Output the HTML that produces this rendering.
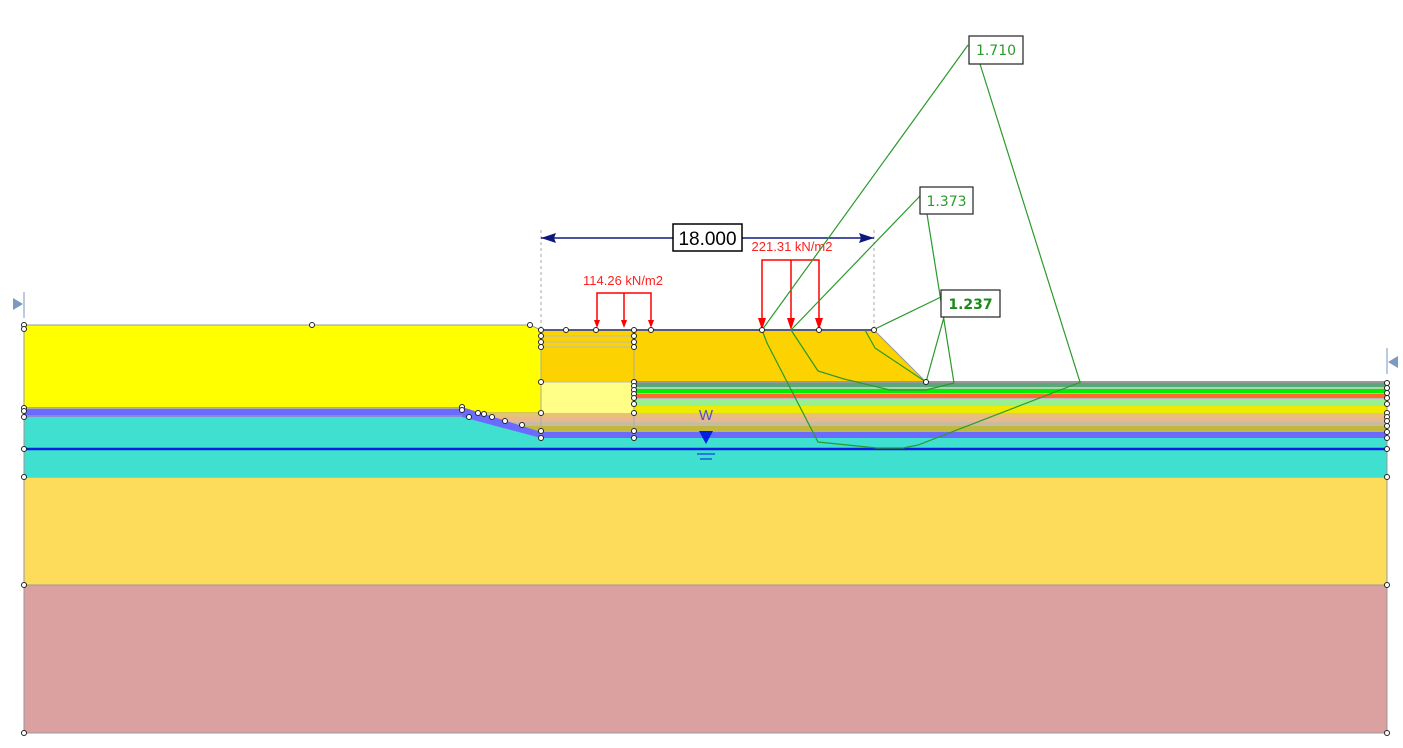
<!DOCTYPE html>
<html><head><meta charset="utf-8"><style>html,body{margin:0;padding:0;background:#fff}svg{display:block}</style></head><body>
<svg width="1403" height="748" viewBox="0 0 1403 748" xmlns="http://www.w3.org/2000/svg" font-family="Liberation Sans, sans-serif">
<rect x="24" y="585" width="1363" height="148" fill="#dba0a0" stroke="#999" stroke-width="1"/>
<rect x="24" y="477" width="1363" height="108" fill="#fddc5c" stroke="#999" stroke-width="1"/>
<rect x="24" y="413" width="1363" height="64" fill="#40e0d0"/>
<polygon points="24,325 530,325 541,330 541,413 462,413 462,408 24,408" fill="#ffff00" stroke="#999" stroke-width="1"/>
<rect x="541" y="330" width="93" height="52" fill="#fcd200"/>
<rect x="541" y="382" width="93" height="31" fill="#ffff88"/>
<line x1="541" y1="336" x2="634" y2="336" stroke="#bbb"/><line x1="541" y1="342" x2="634" y2="342" stroke="#bbb"/><line x1="541" y1="347" x2="634" y2="347" stroke="#bbb"/>
<line x1="541" y1="382" x2="634" y2="382" stroke="#bbb"/>
<polygon points="634,330 874,330 926,382 634,382" fill="#fcd200"/>
<rect x="634" y="381" width="753" height="2" fill="#999"/>
<rect x="634" y="383" width="753" height="4" fill="#5aa87a"/>
<rect x="634" y="387" width="753" height="2" fill="#a8d8a8"/>
<rect x="634" y="389" width="753" height="4" fill="#00ee00"/>
<rect x="634" y="393" width="753" height="1" fill="#bbb"/>
<rect x="634" y="394" width="753" height="4" fill="#ff6a2a"/>
<rect x="634" y="398" width="753" height="1" fill="#bbb"/>
<rect x="634" y="399" width="753" height="6" fill="#98f090"/>
<rect x="634" y="405" width="753" height="1" fill="#ccc"/>
<rect x="634" y="406" width="753" height="7" fill="#eeea00"/>
<rect x="462" y="413" width="925" height="4" fill="#e8c078"/>
<rect x="462" y="417" width="925" height="5" fill="#e8b890"/>
<rect x="462" y="422" width="925" height="4" fill="#c8bca0"/>
<rect x="462" y="426" width="925" height="6" fill="#c0b840"/>
<rect x="541" y="432" width="846" height="6" fill="#6b6bff"/>
<polygon points="462,417 541,438 541,449 462,449" fill="#40e0d0"/>
<polygon points="24,407 462,407 541,432 541,438 462,417 24,417" fill="#6b6bff"/>
<line x1="24" y1="408" x2="462" y2="408" stroke="#aaa" stroke-width="2"/>
<line x1="24" y1="416" x2="462" y2="416" stroke="#aaa" stroke-width="1"/>
<line x1="541" y1="330" x2="541" y2="437" stroke="#aaa"/><line x1="634" y1="330" x2="634" y2="437" stroke="#aaa"/>
<line x1="24" y1="449" x2="1387" y2="449" stroke="#0020e0" stroke-width="2.5"/>
<line x1="24" y1="325" x2="24" y2="733" stroke="#999"/><line x1="1387" y1="382" x2="1387" y2="733" stroke="#999"/>
<line x1="541" y1="330" x2="874" y2="330" stroke="#555a80" stroke-width="2"/>
<line x1="874" y1="330" x2="926" y2="382" stroke="#999"/>
<line x1="24" y1="292" x2="24" y2="318" stroke="#7a9ac0"/><polygon points="13,298 23,304 13,310" fill="#7a9ac0"/>
<line x1="1387" y1="348" x2="1387" y2="374" stroke="#7a9ac0"/><polygon points="1398,356 1388,362 1398,368" fill="#7a9ac0"/>
<text x="706" y="420" font-size="15" fill="#5050d0" text-anchor="middle">W</text>
<polygon points="699,431 713,431 706,444" fill="#0020e0"/>
<line x1="697" y1="454" x2="715" y2="454" stroke="#0020e0"/><line x1="700" y1="459" x2="712" y2="459" stroke="#0020e0"/>
<line x1="541" y1="230" x2="541" y2="330" stroke="#aaa" stroke-dasharray="3,3"/>
<line x1="874" y1="230" x2="874" y2="330" stroke="#aaa" stroke-dasharray="3,3"/>
<line x1="541" y1="238" x2="874" y2="238" stroke="#101880" stroke-width="1.5"/>
<polygon points="541,238 556,233 554,238 556,243" fill="#101880"/><polygon points="874,238 859,233 861,238 859,243" fill="#101880"/>
<rect x="673" y="224" width="69" height="27" fill="#fff" stroke="#000" stroke-width="1.5"/>
<text x="707.5" y="245" font-size="19" text-anchor="middle" fill="#000">18.000</text>
<g stroke="#ff0000" stroke-width="1.5" fill="none">
<polyline points="597,322 597,293 651,293 651,322"/><line x1="624" y1="293" x2="624" y2="322"/>
<polyline points="762,322 762,260 819,260 819,322"/><line x1="791" y1="260" x2="791" y2="322"/>
</g>
<g fill="#ff0000">
<polygon points="594,320 600,320 597,328"/><polygon points="621,320 627,320 624,328"/><polygon points="648,320 654,320 651,328"/>
<polygon points="758,318 766,318 762,330"/><polygon points="787,318 795,318 791,330"/><polygon points="815,318 823,318 819,330"/>
</g>
<text x="623" y="285" font-size="13" fill="#ff2020" text-anchor="middle">114.26 kN/m2</text>
<text x="792" y="251" font-size="13" fill="#ff2020" text-anchor="middle">221.31 kN/m2</text>
<g stroke="#2a9a2a" stroke-width="1.2" fill="none">
<polyline points="762,330 767,343 818,442 877,448 903,448 918,445 1081,382"/>
<polyline points="791,330 818,371 844,379 890,390 926,390 954,383"/>
<polyline points="865,330 875,348 926,382"/>
<line x1="968" y1="45" x2="762" y2="330"/><line x1="980" y1="64" x2="1080" y2="382"/>
<line x1="920" y1="196" x2="791" y2="330"/><line x1="927" y1="214" x2="954" y2="383"/>
<line x1="941" y1="297" x2="875" y2="329"/><line x1="944" y1="317" x2="926" y2="382"/>
</g>
<g fill="#fff" stroke="#222" stroke-width="1.2">
<rect x="969" y="36" width="54" height="28"/><rect x="920" y="187" width="53" height="27"/><rect x="941" y="290" width="59" height="27"/>
</g>
<text x="996" y="55" font-size="14" fill="#2a9a2a" text-anchor="middle" font-family="DejaVu Sans, sans-serif">1.710</text>
<text x="946.5" y="206" font-size="14" fill="#2a9a2a" text-anchor="middle" font-family="DejaVu Sans, sans-serif">1.373</text>
<text x="970.5" y="309" font-size="14" font-weight="bold" fill="#1a8a1a" text-anchor="middle" font-family="DejaVu Sans, sans-serif">1.237</text>
<g fill="#fff" stroke="#222" stroke-width="1">
<circle cx="24" cy="325" r="2.5"/><circle cx="24" cy="329" r="2.5"/><circle cx="312" cy="325" r="2.5"/><circle cx="530" cy="325" r="2.5"/>
<circle cx="24" cy="408" r="2.5"/><circle cx="24" cy="411" r="2.5"/><circle cx="24" cy="417" r="2.5"/><circle cx="24" cy="449" r="2.5"/><circle cx="24" cy="477" r="2.5"/><circle cx="24" cy="585" r="2.5"/><circle cx="24" cy="733" r="2.5"/>
<circle cx="1387" cy="449" r="2.5"/><circle cx="1387" cy="477" r="2.5"/><circle cx="1387" cy="585" r="2.5"/><circle cx="1387" cy="733" r="2.5"/>
<circle cx="1387" cy="383" r="2.5"/><circle cx="1387" cy="388" r="2.5"/><circle cx="1387" cy="393" r="2.5"/><circle cx="1387" cy="398" r="2.5"/><circle cx="1387" cy="404" r="2.5"/><circle cx="1387" cy="413" r="2.5"/><circle cx="1387" cy="417" r="2.5"/><circle cx="1387" cy="421" r="2.5"/><circle cx="1387" cy="426" r="2.5"/><circle cx="1387" cy="432" r="2.5"/><circle cx="1387" cy="438" r="2.5"/>
<circle cx="462" cy="407" r="2.5"/><circle cx="462" cy="410" r="2.5"/><circle cx="469" cy="417" r="2.5"/><circle cx="478" cy="413" r="2.5"/><circle cx="484" cy="414" r="2.5"/><circle cx="492" cy="417" r="2.5"/><circle cx="505" cy="421" r="2.5"/><circle cx="522" cy="425" r="2.5"/>
<circle cx="541" cy="330" r="2.5"/><circle cx="541" cy="336" r="2.5"/><circle cx="541" cy="342" r="2.5"/><circle cx="541" cy="347" r="2.5"/><circle cx="541" cy="382" r="2.5"/><circle cx="541" cy="413" r="2.5"/><circle cx="541" cy="431" r="2.5"/><circle cx="541" cy="438" r="2.5"/>
<circle cx="566" cy="330" r="2.5"/><circle cx="596" cy="330" r="2.5"/><circle cx="651" cy="330" r="2.5"/>
<circle cx="634" cy="330" r="2.5"/><circle cx="634" cy="336" r="2.5"/><circle cx="634" cy="342" r="2.5"/><circle cx="634" cy="347" r="2.5"/>
<circle cx="634" cy="382" r="2.5"/><circle cx="634" cy="386" r="2.5"/><circle cx="634" cy="390" r="2.5"/><circle cx="634" cy="394" r="2.5"/><circle cx="634" cy="398" r="2.5"/><circle cx="634" cy="404" r="2.5"/><circle cx="634" cy="413" r="2.5"/><circle cx="634" cy="431" r="2.5"/><circle cx="634" cy="438" r="2.5"/>
<circle cx="762" cy="330" r="2.5"/><circle cx="819" cy="330" r="2.5"/><circle cx="874" cy="330" r="2.5"/><circle cx="926" cy="382" r="2.5"/>
</g>
</svg>
</body></html>
